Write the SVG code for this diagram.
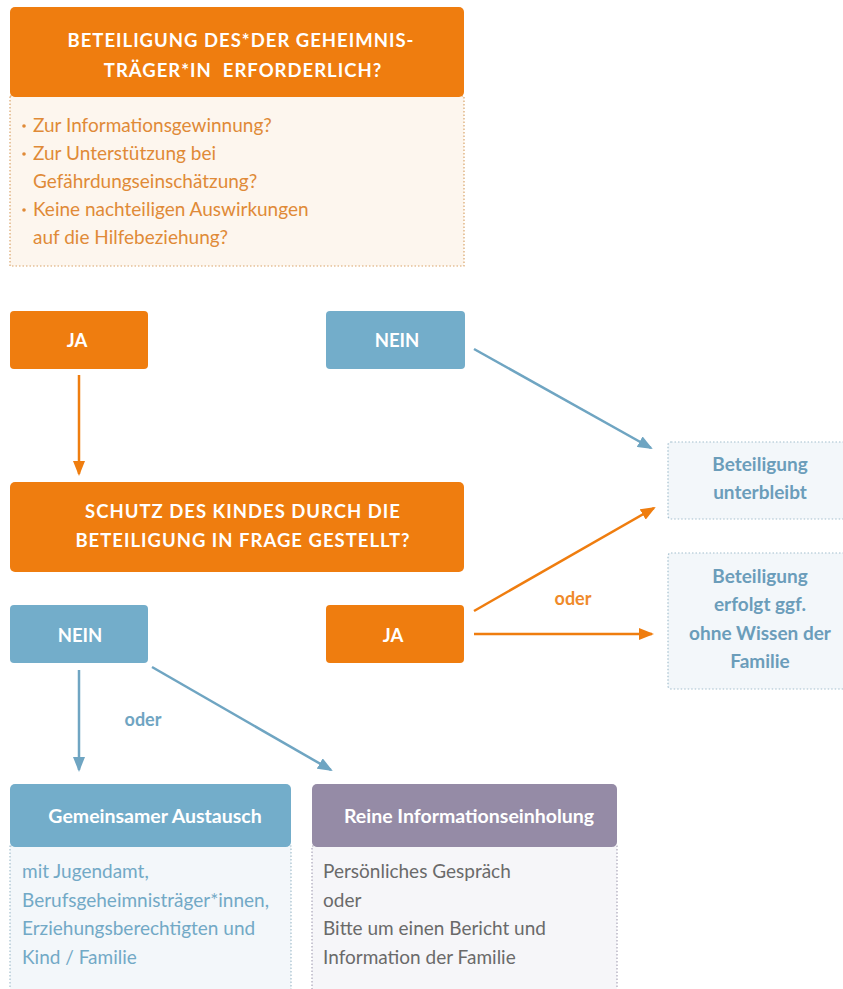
<svg xmlns="http://www.w3.org/2000/svg" width="843" height="989" viewBox="0 0 843 989">
<defs>
<style>
.t{font-family:Lato,"Open Sans","Liberation Sans",sans-serif}
.hd{font-family:Lato,"Open Sans","Liberation Sans",sans-serif;font-weight:700;fill:#fff;font-size:18.5px;letter-spacing:1px;text-anchor:middle}
.yn{font-family:Lato,"Open Sans","Liberation Sans",sans-serif;font-weight:700;fill:#fff;font-size:18.5px;text-anchor:middle}
.bh{font-family:Lato,"Open Sans","Liberation Sans",sans-serif;font-weight:700;fill:#fff;font-size:19.5px;text-anchor:middle}
.ob{font-family:Lato,"Open Sans","Liberation Sans",sans-serif;font-size:19px;fill:#e08a37}
.rb{font-family:Lato,"Open Sans","Liberation Sans",sans-serif;font-size:19px;font-weight:700;fill:#6b9dba;text-anchor:middle}
.bb{font-family:Lato,"Open Sans","Liberation Sans",sans-serif;font-size:19px;fill:#72a9c6}
.gb{font-family:Lato,"Open Sans","Liberation Sans",sans-serif;font-size:19px;fill:#6a6a6a}
.or{fill:#ef7d0f}
.bl{fill:#73adca}
.pu{fill:#958ba6}
.ao{stroke:#ef7d0f;stroke-width:2.5;fill:none}
.ab{stroke:#6fa5c2;stroke-width:2.5;fill:none}
</style>
<marker id="mo" markerWidth="15" markerHeight="12" refX="13" refY="6" orient="auto" markerUnits="userSpaceOnUse" viewBox="0 0 15 12"><path d="M0,0 L15,6 L0,12 Z" fill="#ef7d0f"/></marker>
<marker id="mb" markerWidth="15" markerHeight="12" refX="13" refY="6" orient="auto" markerUnits="userSpaceOnUse" viewBox="0 0 15 12"><path d="M0,0 L15,6 L0,12 Z" fill="#6fa5c2"/></marker>
</defs>
<rect width="843" height="989" fill="#fff"/>

<g id="q1">
<rect x="10" y="96" width="454" height="170" fill="#fdf6ee" stroke="#d9a46a" stroke-width="1.2" stroke-dasharray="1.5 2"/>
<rect x="10" y="7" width="454" height="90" rx="5" class="or"/>
<text class="hd" x="241" y="47">BETEILIGUNG DES*DER GEHEIMNIS-</text>
<text class="hd" x="243" y="77" xml:space="preserve">TRÄGER*IN  ERFORDERLICH?</text>
<circle cx="24" cy="126" r="1.8" fill="#e08a37"/>
<circle cx="24" cy="154" r="1.8" fill="#e08a37"/>
<circle cx="24" cy="210" r="1.8" fill="#e08a37"/>
<text class="ob" x="33" y="132">Zur Informationsgewinnung?</text>
<text class="ob" x="33" y="160">Zur Unterstützung bei</text>
<text class="ob" x="33" y="188">Gefährdungseinschätzung?</text>
<text class="ob" x="33" y="216">Keine nachteiligen Auswirkungen</text>
<text class="ob" x="33" y="244">auf die Hilfebeziehung?</text>
</g>

<g id="ja1">
<rect x="10" y="311" width="138" height="58" rx="4" class="or"/>
<text class="yn" x="77" y="347">JA</text>
</g>
<g id="nein1">
<rect x="326" y="311" width="139" height="58" rx="4" class="bl"/>
<text class="yn" x="397" y="347">NEIN</text>
</g>

<g id="q2">
<rect x="10" y="482" width="454" height="90" rx="5" class="or"/>
<text class="hd" x="243" y="518">SCHUTZ DES KINDES DURCH DIE</text>
<text class="hd" x="243" y="547">BETEILIGUNG IN FRAGE GESTELLT?</text>
</g>

<g id="r1">
<rect x="668" y="442" width="180" height="77" rx="3" fill="#f3f7fa" stroke="#a4bfce" stroke-width="1.2" stroke-dasharray="1.5 2"/>
<text class="rb" x="760" y="471">Beteiligung</text>
<text class="rb" x="760" y="499">unterbleibt</text>
</g>
<g id="r2">
<rect x="668" y="553" width="180" height="136" rx="3" fill="#f3f7fa" stroke="#a4bfce" stroke-width="1.2" stroke-dasharray="1.5 2"/>
<text class="rb" x="760" y="583">Beteiligung</text>
<text class="rb" x="760" y="611">erfolgt ggf.</text>
<text class="rb" x="760" y="640">ohne Wissen der</text>
<text class="rb" x="760" y="668">Familie</text>
</g>

<g id="nein2">
<rect x="10" y="605" width="138" height="58" rx="4" class="bl"/>
<text class="yn" x="80" y="642">NEIN</text>
</g>
<g id="ja2">
<rect x="326" y="605" width="138" height="58" rx="4" class="or"/>
<text class="yn" x="393" y="642">JA</text>
</g>

<g id="b1">
<rect x="10" y="846" width="281" height="150" fill="#f3f7fa" stroke="#a4bfce" stroke-width="1.2" stroke-dasharray="1.5 2"/>
<rect x="10" y="784" width="281" height="63" rx="5" class="bl"/>
<text class="bh" x="155" y="823">Gemeinsamer Austausch</text>
<text class="bb" x="22" y="878">mit Jugendamt,</text>
<text class="bb" x="22" y="907">Berufsgeheimnisträger*innen,</text>
<text class="bb" x="22" y="935">Erziehungsberechtigten und</text>
<text class="bb" x="22" y="964">Kind / Familie</text>
</g>
<g id="b2">
<rect x="312" y="846" width="305" height="150" fill="#f6f6f9" stroke="#aaa6b8" stroke-width="1.2" stroke-dasharray="1.5 2"/>
<rect x="312" y="784" width="305" height="63" rx="5" class="pu"/>
<text class="bh" x="469" y="823">Reine Informationseinholung</text>
<text class="gb" x="323" y="878">Persönliches Gespräch</text>
<text class="gb" x="323" y="907">oder</text>
<text class="gb" x="323" y="935">Bitte um einen Bericht und</text>
<text class="gb" x="323" y="964">Information der Familie</text>
</g>

<g id="connectors">
<line class="ao" x1="79" y1="375" x2="79" y2="474" marker-end="url(#mo)"/>
<line class="ab" x1="474" y1="349" x2="651" y2="448" marker-end="url(#mb)"/>
<line class="ao" x1="474" y1="611" x2="654" y2="508" marker-end="url(#mo)"/>
<line class="ao" x1="474" y1="634" x2="652" y2="634" marker-end="url(#mo)"/>
<line class="ab" x1="79" y1="670" x2="79" y2="770" marker-end="url(#mb)"/>
<line class="ab" x1="152" y1="667" x2="331" y2="770" marker-end="url(#mb)"/>
<text class="t" x="573" y="605" font-size="18" font-weight="700" fill="#ef8a2a" text-anchor="middle">oder</text>
<text class="t" x="143" y="726" font-size="18" font-weight="700" fill="#6fa5c2" text-anchor="middle">oder</text>
</g>
</svg>
